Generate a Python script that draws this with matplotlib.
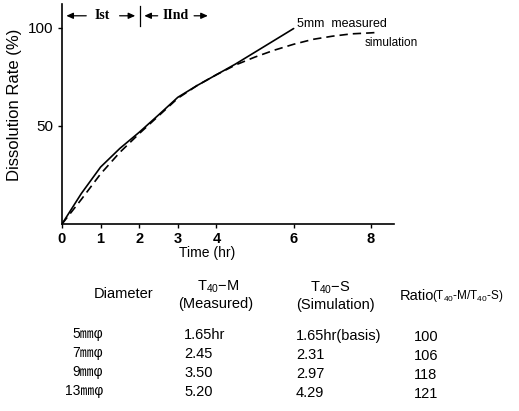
import matplotlib
matplotlib.use("Agg")
import matplotlib.pyplot as plt

plt.rcParams['font.family'] = ['Liberation Sans', 'Noto Sans CJK JP', 'DejaVu Sans']
plt.rcParams['mathtext.fontset'] = 'custom'
plt.rcParams['mathtext.rm'] = 'Liberation Sans'
plt.rcParams['mathtext.it'] = 'Liberation Sans'

# ---- data ----
time_measured = [0, 0.5, 1, 1.5, 2, 2.5, 3, 3.5, 4, 4.5, 5, 5.5, 6]
rate_measured = [0, 15.5, 29, 38.5, 46.7, 55.5, 64.5, 70.5, 76, 81.5, 87.5, 93.5, 99.5]
time_sim = [0, 0.5, 1, 1.5, 2, 2.5, 3, 3.5, 4, 4.5, 5, 5.5, 6, 6.5, 7, 7.5, 8, 8.15]
rate_sim = [0, 12.5, 25.5, 36.5, 46, 55, 64, 70.5, 76, 81, 85, 88.5, 91.5, 94, 95.6, 96.8, 97.3, 97.5]
x_ticks = [0, 1, 2, 3, 4, 6, 8]
y_ticks = [50, 100]

diameters = ["5㎜φ", "7㎜φ", "9㎜φ", "13㎜φ"]
t40_measured = ["1.65hr", "2.45", "3.50", "5.20"]
t40_simulation = ["1.65hr(basis)", "2.31", "2.97", "4.29"]
ratios = ["100", "106", "118", "121"]

W, H = 519, 411
fig = plt.figure(figsize=(W / 100, H / 100), dpi=100)

def fx(px):
    return px / W

def fy(py):
    return 1 - py / H

ax_left, ax_right, ax_top, ax_bottom = 62, 394, 4, 224
ax = fig.add_axes([fx(ax_left), fy(ax_bottom), (ax_right - ax_left) / W, (ax_bottom - ax_top) / H])
ax.set_xlim(0, 8.6)
ax.set_ylim(0, 112)

ax.plot(time_measured, rate_measured, color='black', lw=1.2, solid_capstyle='round')
ax.plot(time_sim, rate_sim, color='black', lw=1.2, linestyle=(0, (5, 3)))

for s in ['top', 'right']:
    ax.spines[s].set_visible(False)
for s in ['left', 'bottom']:
    ax.spines[s].set_linewidth(1.2)

ax.set_xticks(x_ticks)
ax.set_xticklabels([str(t) for t in x_ticks], fontsize=10.5, fontweight='bold')
ax.set_yticks(y_ticks)
ax.set_yticklabels([str(t) for t in y_ticks], fontsize=11)
ax.tick_params(axis='both', direction='out', length=3, width=1, pad=3)

# curve labels
ax.text(6.1, 102, "5mm  measured", fontsize=9, ha='left', va='center')
ax.text(7.85, 92, "simulation", fontsize=8.5, ha='left', va='center')

# top phase annotations
ya = 106
arrow_kw = dict(arrowstyle='-|>,head_length=0.4,head_width=0.18', lw=0.9, color='black')
ax.annotate('', xy=(0.04, ya), xytext=(0.7, ya), arrowprops=arrow_kw, annotation_clip=False)
ax.text(1.05, ya, "Ist", fontsize=10, fontweight='bold', family='Liberation Serif',
        ha='center', va='center')
ax.annotate('', xy=(1.97, ya), xytext=(1.42, ya), arrowprops=arrow_kw, annotation_clip=False)
ax.annotate('', xy=(2.06, ya), xytext=(2.55, ya), arrowprops=arrow_kw, annotation_clip=False)
ax.plot([2.02, 2.02], [101, 111], color='black', lw=0.9, clip_on=False)
ax.text(2.95, ya, "IInd", fontsize=10, fontweight='bold', family='Liberation Serif',
        ha='center', va='center')
ax.annotate('', xy=(3.85, ya), xytext=(3.35, ya), arrowprops=arrow_kw, annotation_clip=False)

# axis labels
fig.text(fx(15), fy(105), "Dissolution Rate (%)", rotation=90, fontsize=12,
         ha='center', va='center')
fig.text(fx(207), fy(253), "Time (hr)", fontsize=10, ha='center', va='center')

# table
fs = 10.5
fig.text(fx(124), fy(294), "Diameter", fontsize=fs, ha='center', va='center')
fig.text(fx(218), fy(287), r"T$_{\mathrm{40}}$−M", fontsize=fs, ha='center', va='center')
fig.text(fx(216), fy(304), "(Measured)", fontsize=fs, ha='center', va='center')
fig.text(fx(330), fy(288), r"T$_{\mathrm{40}}$−S", fontsize=fs, ha='center', va='center')
fig.text(fx(335), fy(305), "(Simulation)", fontsize=fs, ha='center', va='center')
fig.text(fx(400), fy(296), "Ratio", fontsize=fs, ha='left', va='center')
fig.text(fx(432), fy(296), r"(T$_{\mathrm{40}}$-M/T$_{\mathrm{40}}$-S)", fontsize=8.5,
         ha='left', va='center')

row_y = [334, 353, 372, 391]
for i, y in enumerate(row_y):
    fig.text(fx(103), fy(y), diameters[i], fontsize=10, ha='right', va='center')
    fig.text(fx(184), fy(y + 1), t40_measured[i], fontsize=fs, ha='left', va='center')
    fig.text(fx(296), fy(y + 2), t40_simulation[i], fontsize=fs, ha='left', va='center')
    fig.text(fx(414), fy(y + 3), ratios[i], fontsize=fs, ha='left', va='center')

fig.savefig("out.png", dpi=100)
